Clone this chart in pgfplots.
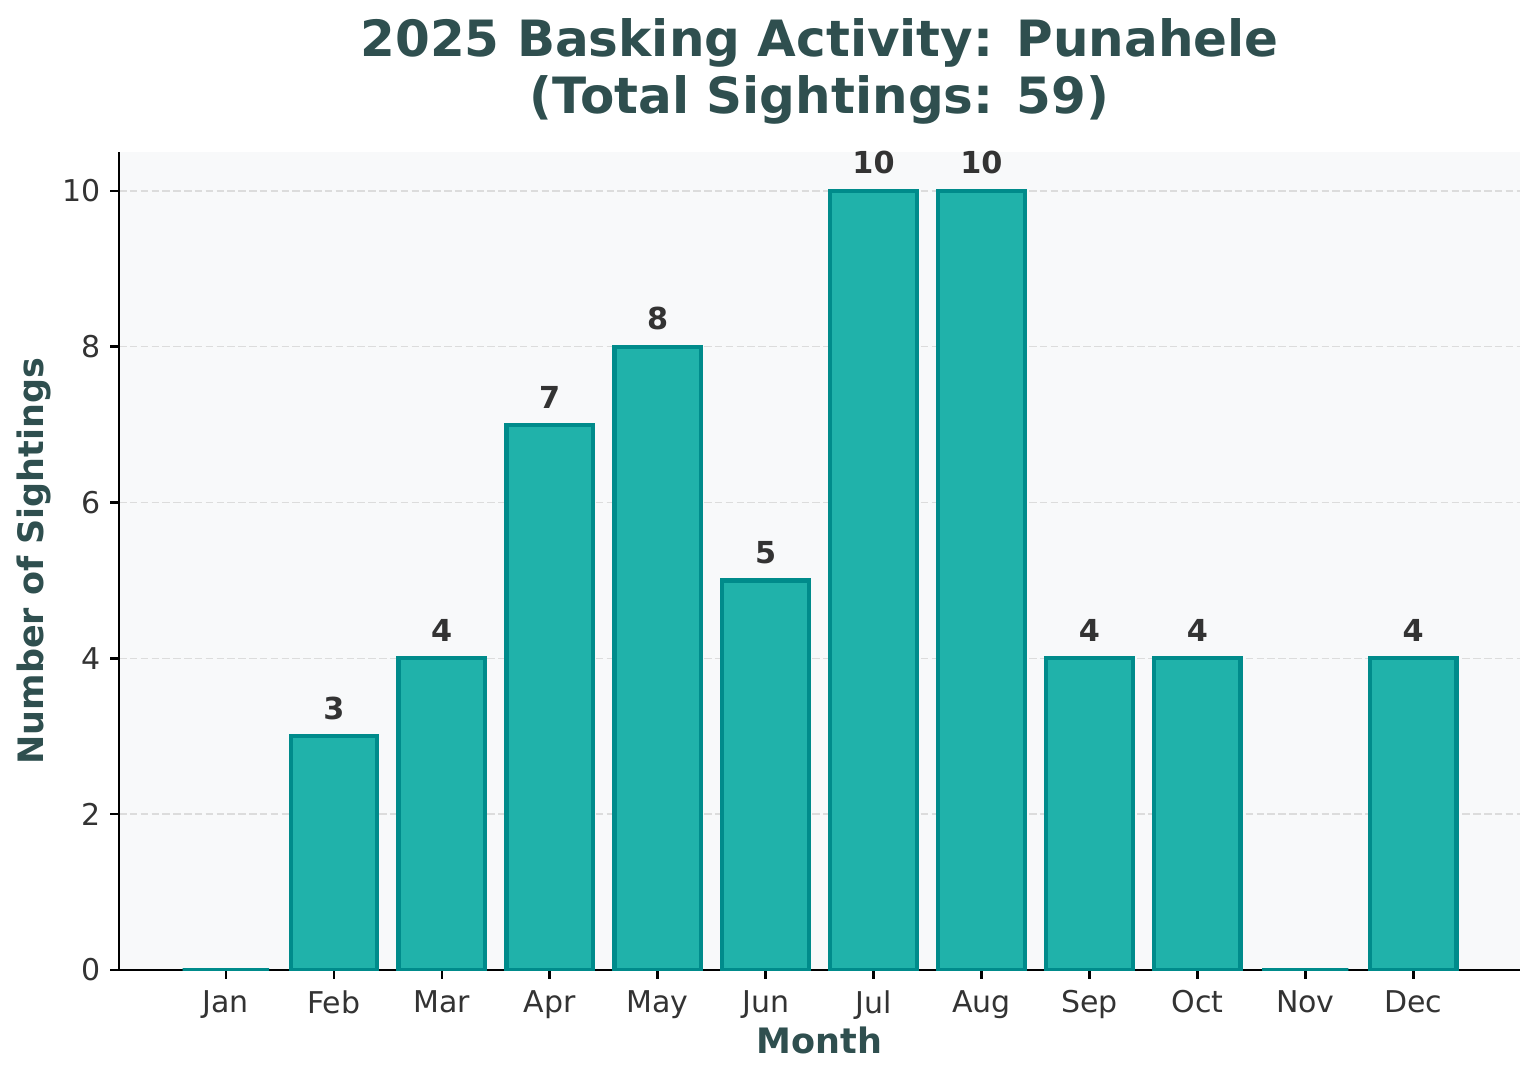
\documentclass[border=0pt]{standalone}
\usepackage{pgfplots}
\pgfplotsset{compat=1.18}
\usepackage{pgfplotstable}
\usepackage{fontspec}
\setmainfont{DejaVu Sans}
\definecolor{barfill}{HTML}{20B2AA}
\definecolor{baredge}{HTML}{008B8B}
\definecolor{titlecol}{HTML}{2F4F4F}
\definecolor{tickcol}{HTML}{333333}
\definecolor{bgcol}{HTML}{F8F9FA}
\definecolor{gridcol}{HTML}{DCDCDC}
\pgfplotstableread{
x y
0 0
1 3
2 4
3 7
4 8
5 5
6 10
7 10
8 4
9 4
10 0
11 4
}\sightings
\begin{document}
\begin{tikzpicture}
\useasboundingbox (-42.84pt,-39.6pt) rectangle (510.84pt,349.2pt);
\begin{axis}[
  at={(0pt,0pt)}, anchor=south west,
  scale only axis,
  width=504.4pt, height=294.5pt,
  xmin=-0.99, xmax=11.99, ymin=0, ymax=10.5,
  axis lines=left,
  axis line style={-, black, line width=0.9pt},
  axis background/.style={fill=bgcol},
  xtick={0,...,11},
  xticklabels={Jan,Feb,Mar,Apr,May,Jun,Jul,Aug,Sep,Oct,Nov,Dec},
  ytick={0,2,4,6,8,10},
  tick align=outside,
  major tick length=3.2pt,
  every tick/.style={black, line width=0.9pt},
  tick label style={font=\fontsize{10.8pt}{13pt}\selectfont, text=tickcol},
  xticklabel style={yshift=-0.7pt},
  /pgf/number format/assume math mode=true,
  ymajorgrids,
  major grid style={gridcol, line width=0.5pt, dash pattern=on 2.7pt off 1.2pt},
  ybar, bar width=0.8,
  visualization depends on={y \as \rawy},
  nodes near coords={\ifdim\rawy pt>0pt \pgfmathprintnumber{\rawy}\fi},
  every node near coord/.append style={font=\fontsize{10.9pt}{13pt}\selectfont\bfseries, text=tickcol, inner sep=0pt, yshift=5.2pt},
]
\addplot[ybar, fill=barfill, draw=baredge, line width=1.5pt] table[x=x, y=y] {\sightings};
\end{axis}
\node[anchor=base, text=titlecol, font=\fontsize{18pt}{21pt}\selectfont\bfseries] at (252.2pt,328.7pt) {2025 Basking Activity: Punahele};
\node[anchor=base, text=titlecol, font=\fontsize{18pt}{21pt}\selectfont\bfseries] at (252.2pt,308.5pt) {(Total Sightings: 59)};
\node[anchor=base, text=titlecol, font=\fontsize{12.6pt}{15pt}\selectfont\bfseries] at (252.2pt,-30.2pt) {Month};
\node[anchor=base, rotate=90, text=titlecol, font=\fontsize{12.6pt}{15pt}\selectfont\bfseries] at (-27pt,147.2pt) {Number of Sightings};
\end{tikzpicture}
\end{document}
